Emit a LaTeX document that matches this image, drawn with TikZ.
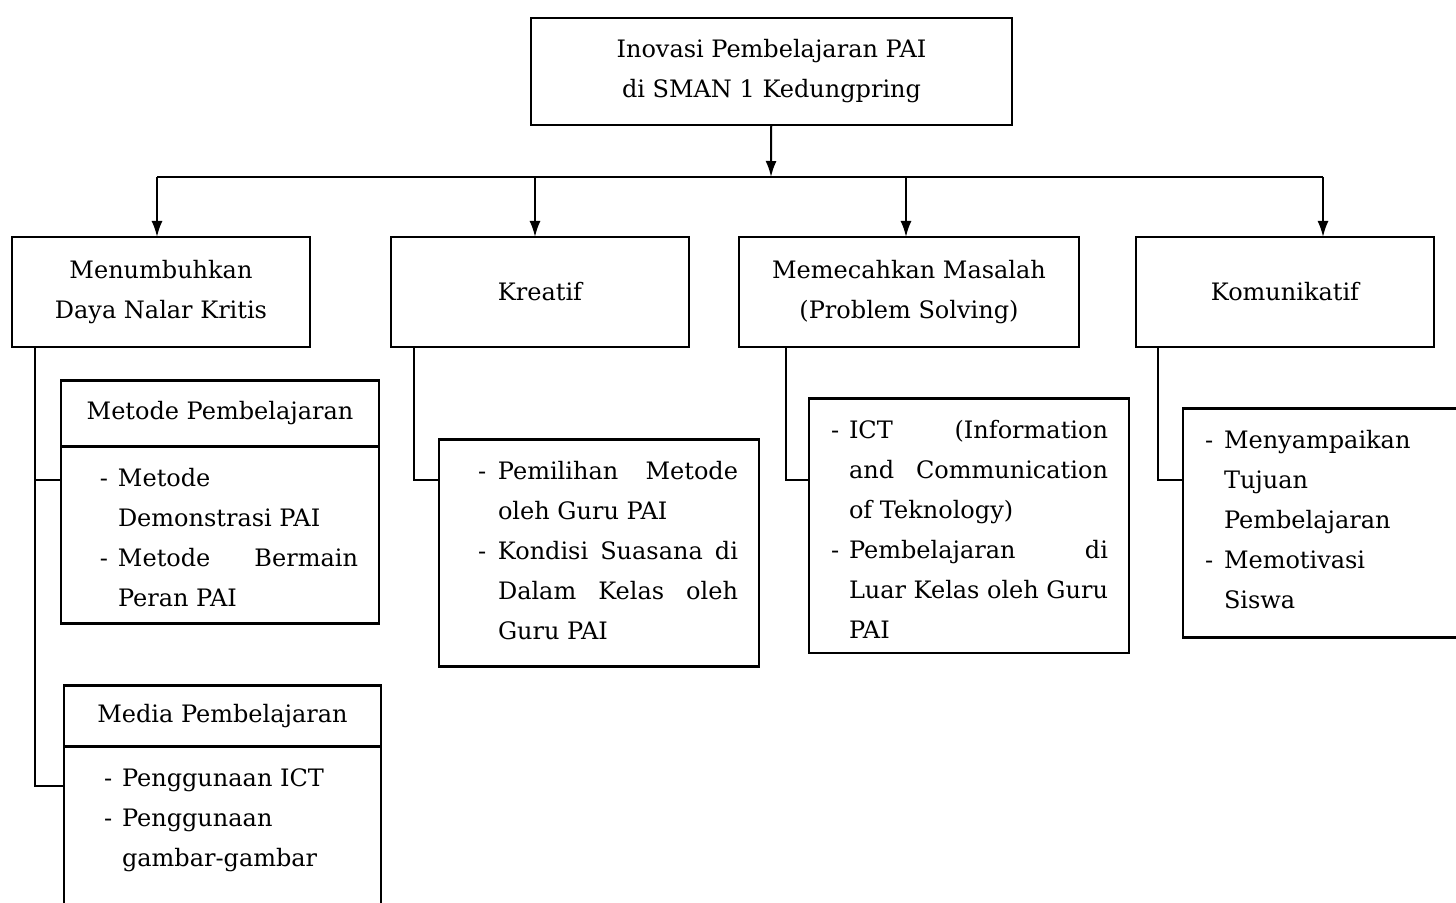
\documentclass[tikz,border=0pt]{standalone}
\usepackage{fontspec}
\setmainfont{DejaVu Serif}
\usetikzlibrary{arrows.meta}
\usetikzlibrary{positioning}

% satu butir daftar dengan tanda "-" dan indentasi gantung
\newcommand{\butir}[2]{\par\noindent\hangindent=#1\hangafter=1\makebox[#1][l]{-}#2}

\begin{document}
\begin{tikzpicture}[x=0.5pt, y=-0.5pt, >={Latex[length=8pt,width=5.5pt]}, line width=1pt,
    font=\fontsize{12}{20}\selectfont]
    \tikzstyle{kotak}=[draw, line width=1.3pt, inner sep=0pt, outer sep=0pt, align=center]
    \tikzstyle{isi}=[kotak, align=justify]

    \useasboundingbox (0,0) rectangle (1456,903);
    \clip (0,0) rectangle (1456,903);

    % tingkat atas
    \node[kotak, minimum width=240.5pt, minimum height=53.5pt] (judul) at (771.5,71.5)
        {Inovasi Pembelajaran PAI\\di SMAN 1 Kedungpring};

    \node[kotak, minimum width=149pt, minimum height=55pt] (nalar) at (161,292)
        {Menumbuhkan\\Daya Nalar Kritis};
    \node[kotak, minimum width=149pt, minimum height=55pt] (kreatif) at (540,292) {Kreatif};
    \node[kotak, minimum width=170pt, minimum height=55pt] (masalah) at (909,292)
        {Memecahkan Masalah\\(Problem Solving)};
    \node[kotak, minimum width=149pt, minimum height=55pt] (komunikatif) at (1285,292) {Komunikatif};

    \coordinate (bus) at (771,177);
    \coordinate (b1) at (157,177);
    \coordinate (b2) at (535,177);
    \coordinate (b3) at (906,177);
    \coordinate (b4) at (1323,177);

    \draw[->] (judul) -- (bus);
    \draw (b1) -- (b4);
    \foreach \b/\n in {b1/nalar, b2/kreatif, b3/masalah, b4/komunikatif}
        \draw[->] (\b) -- (\b |- \n.north);

    % cabang daya nalar kritis
    \node[kotak, minimum width=159pt, minimum height=33pt] (metodeJudul) at (220,413.3) {Metode Pembelajaran};
    \node[isi, text width=159pt, minimum height=88.3pt, text height=-0.3pt, text depth=88.6pt,
          below=0pt of metodeJudul] (metodeIsi)
        {\leftskip=19.5pt\rightskip=10.5pt
         \butir{9pt}{Metode\newline Demonstrasi PAI}
         \butir{9pt}{Metode Bermain\linebreak Peran PAI}\par};

    \node[kotak, minimum width=158.5pt, minimum height=30.3pt] (mediaJudul) at (222.5,716) {Media Pembelajaran};
    \node[isi, text width=158.5pt, minimum height=89.5pt, text height=-0.9pt, text depth=90.4pt,
          below=0pt of mediaJudul] (mediaIsi)
        {\leftskip=20pt\rightskip=0pt plus 1fil
         \butir{9pt}{Penggunaan ICT}
         \butir{9pt}{Penggunaan\newline gambar-gambar}\par};

    % cabang kreatif
    \node[isi, text width=160pt, minimum height=112pt, text height=-1.5pt, text depth=113.5pt] (kreatifIsi) at (599,553)
        {\leftskip=19.5pt\rightskip=10.5pt
         \butir{10pt}{Pemilihan Metode\linebreak oleh Guru PAI}
         \butir{10pt}{Kondisi Suasana di\linebreak Dalam Kelas oleh\linebreak Guru PAI}\par};

    % cabang memecahkan masalah
    \node[isi, text width=160pt, minimum height=125.5pt, text height=-1.6pt, text depth=127.1pt] (masalahIsi) at (969,525.8)
        {\leftskip=11pt\rightskip=10.5pt
         \butir{9pt}{ICT (Information\linebreak and Communication\linebreak of Teknology)}
         \butir{9pt}{Pembelajaran di\linebreak Luar Kelas oleh Guru\linebreak PAI}\par};

    % cabang komunikatif
    \node[isi, text width=138.5pt, minimum height=114pt, text height=-0.5pt, text depth=114.5pt] (komunikatifIsi) at (1321.5,523)
        {\leftskip=11pt\rightskip=0pt plus 1fil
         \butir{9.5pt}{Menyampaikan\newline Tujuan\newline Pembelajaran}
         \butir{9.5pt}{Memotivasi\newline Siswa}\par};

    % penghubung cabang
    \coordinate (t1) at (35,347);
    \coordinate (t2) at (414,347);
    \coordinate (t3) at (786,347);
    \coordinate (t4) at (1158,347);
    \coordinate (k1) at (61,480);
    \coordinate (k2) at (64,786);
    \coordinate (k3) at (439,480);
    \coordinate (k4) at (809,480);
    \coordinate (k5) at (1183,480);

    \draw (t1) |- (k1);
    \draw (t1) |- (k2);
    \draw (t2) |- (k3);
    \draw (t3) |- (k4);
    \draw (t4) |- (k5);
\end{tikzpicture}
\end{document}
